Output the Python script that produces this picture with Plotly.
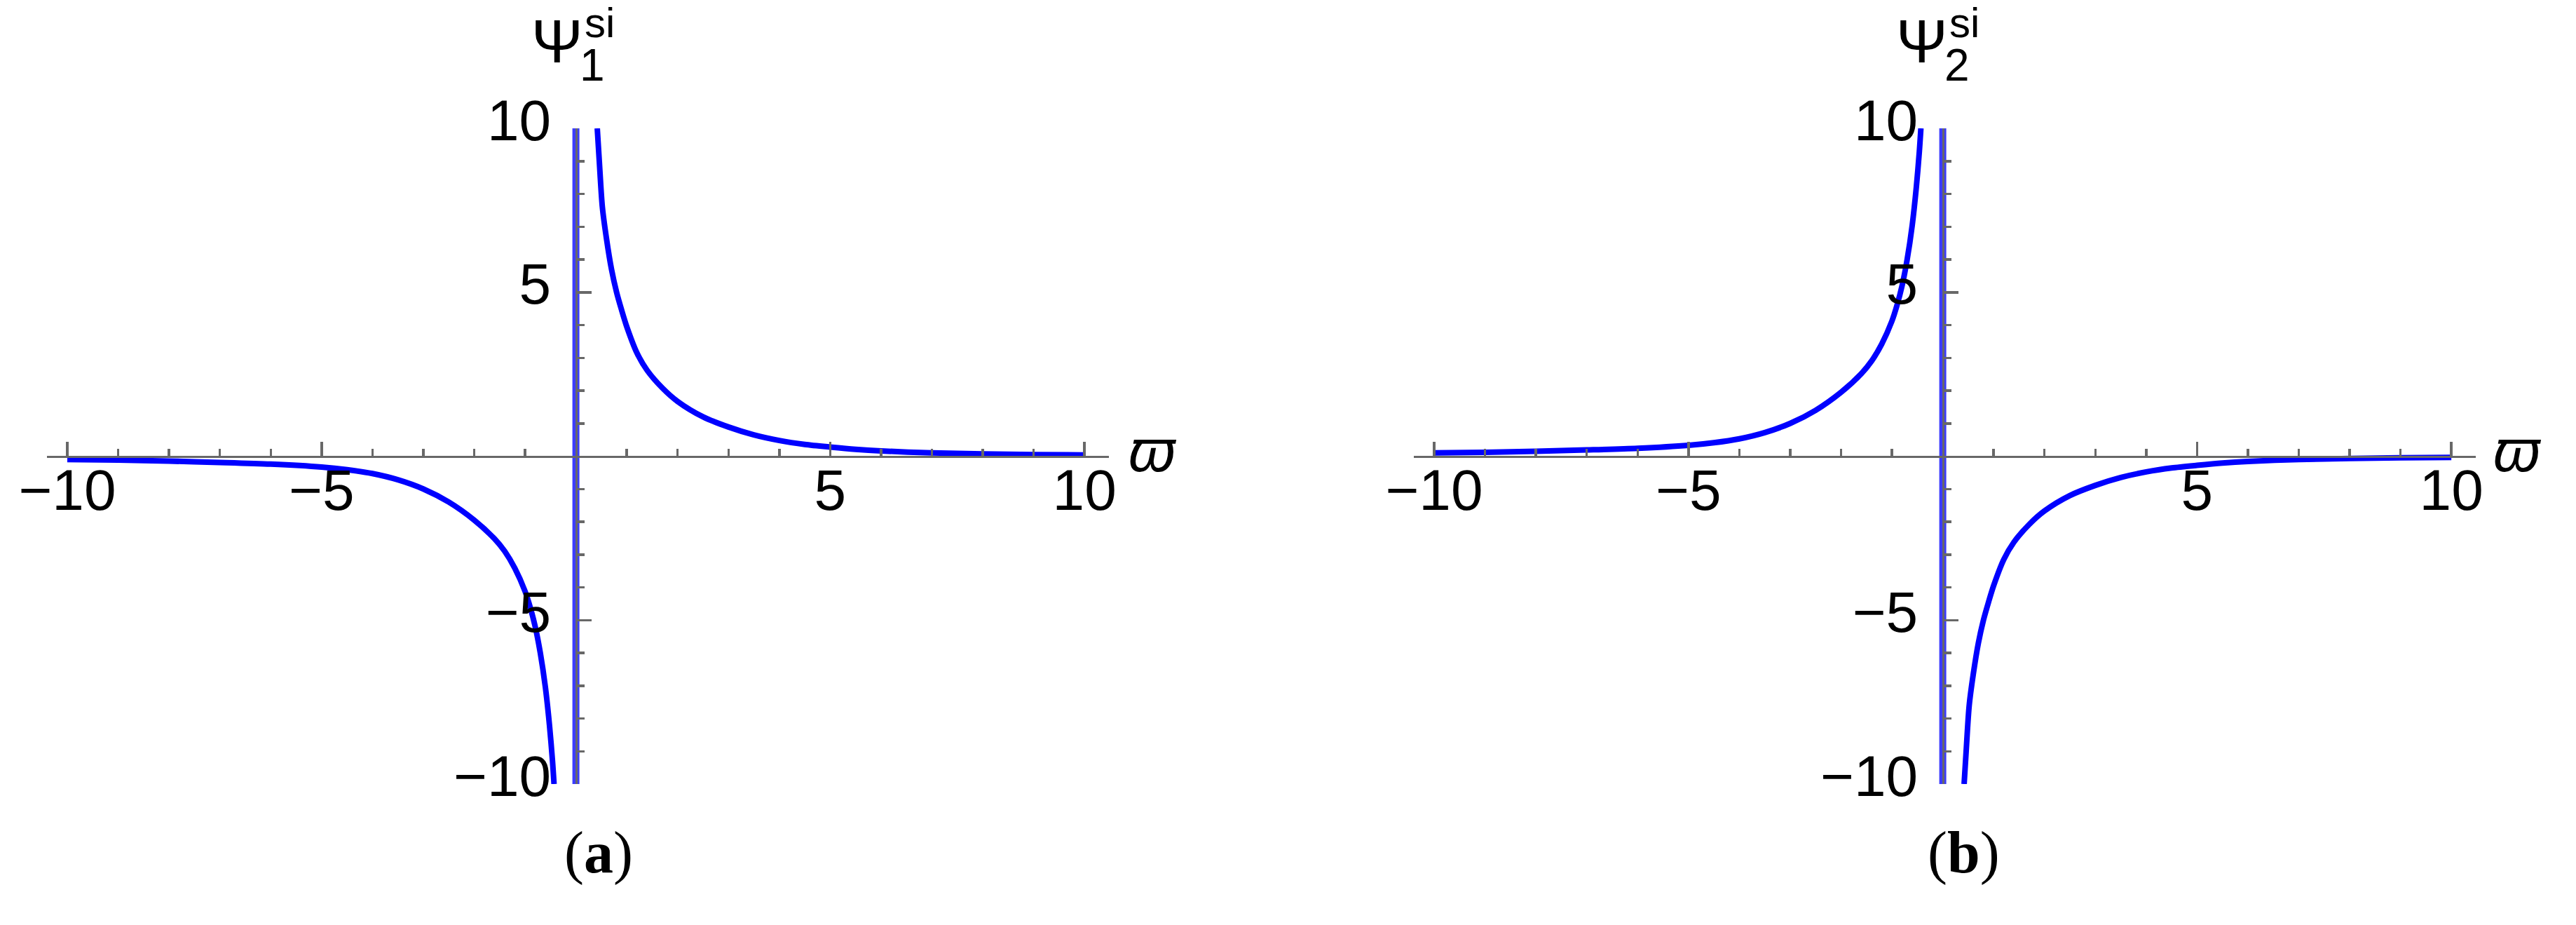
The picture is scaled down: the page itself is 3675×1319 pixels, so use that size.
import plotly.graph_objects as go

# ---------------- data ----------------
omega_left = [-10, -9, -8, -7, -6, -5, -4.5, -4, -3.5, -3, -2.5, -2, -1.6, -1.4,
              -1.2, -1.0, -0.9, -0.8, -0.7, -0.6, -0.52, -0.46, -0.43]
omega_right = [0.42, 0.46, 0.52, 0.6, 0.7, 0.8, 0.9, 1.0, 1.2, 1.4, 1.7, 2.0, 2.5,
               3.0, 3.5, 4.0, 4.5, 5.0, 5.5, 6.0, 7.0, 8.0, 9.0, 10.0]

psi1_left = [-0.10, -0.12, -0.15, -0.19, -0.24, -0.33, -0.41, -0.53, -0.72, -1.0,
             -1.4, -1.95, -2.52, -2.9, -3.42, -4.12, -4.6, -5.2, -6.0, -7.05,
             -8.2, -9.3, -10.0]
psi1_right = [10.0, 9.0, 7.6, 6.65, 5.7, 5.0, 4.45, 3.95, 3.15, 2.62, 2.08, 1.67,
              1.2, 0.89, 0.65, 0.48, 0.36, 0.28, 0.21, 0.16, 0.10, 0.07, 0.05, 0.04]

psi2_left = [0.10, 0.12, 0.15, 0.19, 0.24, 0.33, 0.41, 0.53, 0.72, 1.0,
             1.4, 1.95, 2.52, 2.9, 3.42, 4.12, 4.6, 5.2, 6.0, 7.05,
             8.2, 9.3, 10.0]
psi2_right = [-10.0, -9.0, -7.6, -6.65, -5.7, -5.0, -4.45, -3.95, -3.15, -2.62, -2.08,
              -1.67, -1.2, -0.89, -0.65, -0.48, -0.36, -0.28, -0.21, -0.16, -0.10,
              -0.07, -0.05, -0.04]

jump_x = [0, 0]
jump_y = [-10, 10]

major_ticks = [-10, -5, 5, 10]
major_text = ["\u221210", "\u22125", "5", "10"]
minor_ticks = [-9, -8, -7, -6, -4, -3, -2, -1, 1, 2, 3, 4, 6, 7, 8, 9]

# ---------------- layout geometry ----------------
W, H = 3675, 1319
def px(x):
    return x / W
def py(y):
    return 1 - y / H

XR = [-10.40, 10.48]
YR = [-10, 10]
ydom = [py(1118), py(183)]
panels = [
    dict(xdom=[px(67), px(1582)], name="a"),
    dict(xdom=[px(2017), px(3532)], name="b"),
]

BLUE = "#0000ff"
JUMP = "#3c3cff"
GRAY = "#686868"
SANS = "Liberation Sans, Arial, sans-serif"
TICKFONT = dict(family=SANS, size=82, color="#000000")

fig = go.Figure()

series = [
    (psi1_left, psi1_right),
    (psi2_left, psi2_right),
]

for i, (pl, pr) in enumerate(series):
    xa = "x" if i == 0 else "x2"
    ya = "y" if i == 0 else "y2"
    fig.add_trace(go.Scatter(x=jump_x, y=jump_y, mode="lines",
                             line=dict(color=JUMP, width=10),
                             xaxis=xa, yaxis=ya, showlegend=False, hoverinfo="skip"))
    fig.add_trace(go.Scatter(x=omega_left, y=pl, mode="lines",
                             line=dict(color=BLUE, width=8, shape="spline", smoothing=0.8),
                             xaxis=xa, yaxis=ya, showlegend=False))
    fig.add_trace(go.Scatter(x=omega_right, y=pr, mode="lines",
                             line=dict(color=BLUE, width=8, shape="spline", smoothing=0.8),
                             xaxis=xa, yaxis=ya, showlegend=False))

layout = dict(
    template="none",
    width=W, height=H,
    margin=dict(l=0, r=0, t=0, b=0, pad=0, autoexpand=False),
    paper_bgcolor="white", plot_bgcolor="white",
    showlegend=False,
)

annotations = []
for i, p in enumerate(panels):
    sfx = "" if i == 0 else "2"
    xd = p["xdom"]
    ypos = ydom[0] + (0 - YR[0]) / (YR[1] - YR[0]) * (ydom[1] - ydom[0])
    xpos = xd[0] + (0 - XR[0]) / (XR[1] - XR[0]) * (xd[1] - xd[0])
    common = dict(
        showline=True, linecolor=GRAY, linewidth=3.5,
        showgrid=False, zeroline=False, automargin=False,
        tickmode="array", tickvals=major_ticks, ticktext=major_text,
        ticks="inside", ticklen=20, tickwidth=3.5, tickcolor=GRAY,
        tickfont=TICKFONT,
        minor=dict(tickmode="array", tickvals=minor_ticks, ticks="inside",
                   ticklen=10, tickwidth=3.5, tickcolor=GRAY, showgrid=False),
        fixedrange=True, layer="above traces",
    )
    layout["xaxis" + sfx] = dict(domain=xd, range=XR, anchor="free", position=ypos,
                                 ticklabelstandoff=-24, **common)
    layout["yaxis" + sfx] = dict(domain=ydom, range=YR, anchor="free", position=xpos,
                                 ticklabelstandoff=18, ticklabelshift=-12, **common)

    dx = 0 if i == 0 else 1947
    sub = "1" if i == 0 else "2"
    # axis label Psi with stacked sub/superscript
    annotations.append(dict(xref="paper", yref="paper", x=px(795 + dx), y=py(58),
                            text="\u03a8", showarrow=False, xanchor="center", yanchor="middle",
                            font=dict(family=SANS, size=88, color="black")))
    annotations.append(dict(xref="paper", yref="paper", x=px(832 + dx), y=py(33),
                            text="si", showarrow=False, xanchor="left", yanchor="middle",
                            font=dict(family=SANS, size=60, color="black")))
    annotations.append(dict(xref="paper", yref="paper", x=px(825 + dx), y=py(93),
                            text=sub, showarrow=False, xanchor="left", yanchor="middle",
                            font=dict(family=SANS, size=64, color="black")))
    # x axis label varpi
    annotations.append(dict(xref="paper", yref="paper", x=px(1608 + dx), y=py(642),
                            text="<i>\u03d6</i>", showarrow=False, xanchor="left", yanchor="middle",
                            font=dict(family="Liberation Sans, DejaVu Sans, sans-serif", size=86, color="black")))
    # caption
    cap = "(<b>a</b>)" if i == 0 else "(<b>b</b>)"
    annotations.append(dict(xref="paper", yref="paper", x=px(854 + dx), y=py(1216),
                            text=cap, showarrow=False, xanchor="center", yanchor="middle",
                            font=dict(family="Liberation Serif, Times New Roman, serif", size=84, color="black")))

layout["annotations"] = annotations
fig.update_layout(**layout)

fig.write_html("out.html", config={"displayModeBar": False, "staticPlot": True},
               post_script="document.body.style.margin='0';document.body.style.overflow='hidden';")
